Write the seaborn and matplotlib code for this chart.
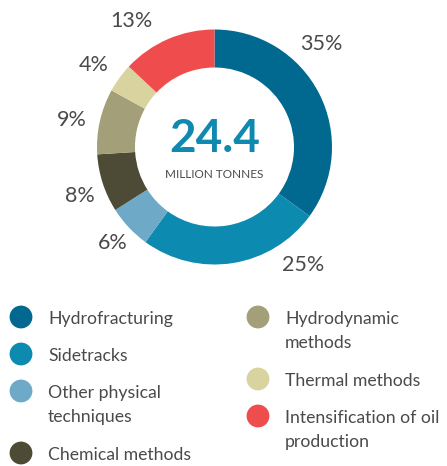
import numpy as np
import matplotlib
matplotlib.use("Agg")
import matplotlib.pyplot as plt
import seaborn as sns

# --------- data ---------
categories = ["Hydrofracturing", "Sidetracks", "Other physical\ntechniques",
              "Chemical methods", "Hydrodynamic\nmethods", "Thermal methods",
              "Intensification of oil\nproduction"]
shares = [35, 25, 6, 8, 9, 4, 13]
total_label = "24.4"
total_unit = "MILLION TONNES"
colors = ["#01698f", "#0d8ab0", "#6ea9c7", "#4d4a35", "#a39f78", "#d8d39f", "#ef4d4d"]

sns.set_theme(style="white")
plt.rcParams["font.family"] = ["Lato", "DejaVu Sans"]
txt_col = "#4a4a4a"

W, H = 447, 466
fig = plt.figure(figsize=(W / 100, H / 100), dpi=100)
ax = fig.add_axes([0, 0, 1, 1])

# pixel helper (y measured from top)
def py(y):
    return H - y

cx, cy, R = 214.5, 147, 117.5
wedges, _ = ax.pie(shares, colors=sns.color_palette(colors), startangle=90,
                   counterclock=False, center=(cx, py(cy)), radius=R,
                   wedgeprops=dict(width=38, edgecolor="none"))

# percentage labels around the ring
label_shift = [17, 28, 0, 2, 2, 2, 10]
label_rad = [148, 148, 140, 143, 145, 146, 151]
for w, v, s, r in zip(wedges, shares, label_shift, label_rad):
    a = np.deg2rad((w.theta1 + w.theta2) / 2 + s)
    ax.text(cx + r * np.cos(a), py(cy) + r * np.sin(a), f"{v}%",
            ha="center", va="center", fontsize=15.5, color=txt_col)

ax.text(cx, py(139), total_label, ha="center", va="center", fontsize=33,
        fontweight="bold", color="#1089b0")
ax.text(cx, py(175), total_unit, ha="center", va="center", fontsize=8.5,
        color=txt_col)

# --------- legend ---------
col_x = [21, 258]
cols = [[0, 1, 2, 3], [4, 5, 6]]
for xc, idx in zip(col_x, cols):
    y = 317
    for i in idx:
        ax.scatter([xc], [py(y)], s=270, color=colors[i], edgecolor="none")
        # text block hangs from the first line, which is centred on the marker
        ax.text(xc + 27, py(y - 12) - 6, categories[i], ha="left", va="top",
                fontsize=12.7, color=txt_col, linespacing=1.65)
        nl = categories[i].count("\n")
        y += 37 + 25 * nl

ax.set_xlim(0, W)
ax.set_ylim(0, H)
ax.set_aspect("auto")
ax.axis("off")

fig.savefig("out.png", dpi=100)
